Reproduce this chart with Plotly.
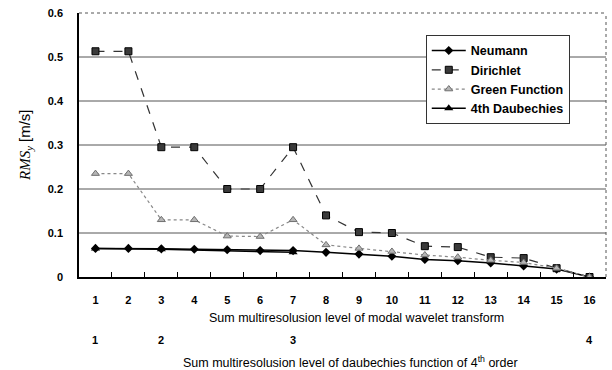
import plotly.graph_objects as go

# Multiresolution level (modal wavelet transform)
levels = list(range(1, 17))
tick_labels = [str(v) for v in levels]

neumann = [0.065, 0.065, 0.064, 0.063, 0.062, 0.060, 0.060, 0.056,
           0.052, 0.047, 0.040, 0.037, 0.032, 0.025, 0.018, 0.0]
dirichlet = [0.513, 0.513, 0.295, 0.295, 0.200, 0.200, 0.295, 0.140,
             0.102, 0.100, 0.070, 0.068, 0.045, 0.043, 0.020, 0.0]
green = [0.235, 0.235, 0.130, 0.130, 0.093, 0.092, 0.130, 0.073,
         0.065, 0.058, 0.050, 0.045, 0.038, 0.033, 0.020, 0.0]

# 4th-order Daubechies levels and where they sit on the level axis
daub_axis_pos = [1, 3, 7, 16]
daub_axis_labels = ["1", "2", "3", "4"]
daub_pos = [1, 3, 7]
daub = [0.065, 0.063, 0.056]

grid_vals = [0.1, 0.2, 0.3, 0.4, 0.5]
y_ticks = [0, 0.1, 0.2, 0.3, 0.4, 0.5, 0.6]
y_tick_text = ["0", "0.1", "0.2", "0.3", "0.4", "0.5", "0.6"]

FONT = "Liberation Sans"
TICKFONT = dict(family=FONT, size=11, color="black", weight="bold")

fig = go.Figure()

fig.add_trace(go.Scatter(
    x=levels, y=neumann, name="Neumann", mode="lines+markers",
    line=dict(color="black", width=1.5),
    marker=dict(symbol="diamond", size=7, color="black"),
))
fig.add_trace(go.Scatter(
    x=levels, y=dirichlet, name="Dirichlet", mode="lines+markers",
    line=dict(color="#333333", width=1.2, dash="dash"),
    marker=dict(symbol="square", size=7, color="#3a3a3a",
                line=dict(color="black", width=1)),
))
fig.add_trace(go.Scatter(
    x=levels, y=green, name="Green Function", mode="lines+markers",
    line=dict(color="#888888", width=1.2, dash="dot"),
    marker=dict(symbol="triangle-up", size=7, color="#b5b5b5",
                line=dict(color="#707070", width=1)),
))
fig.add_trace(go.Scatter(
    x=daub_pos, y=daub, name="4th Daubechies", mode="lines+markers",
    line=dict(color="black", width=1.5),
    marker=dict(symbol="triangle-up", size=8, color="black"),
))

shapes = []
for g in grid_vals:
    shapes.append(dict(type="line", xref="paper", x0=0, x1=1, yref="y",
                       y0=g, y1=g, line=dict(color="#555555", width=1),
                       layer="below"))
# dotted top and right frame
shapes.append(dict(type="line", xref="paper", yref="paper", x0=0, x1=1,
                   y0=1, y1=1, line=dict(color="#555555", width=1, dash="dot")))
shapes.append(dict(type="line", xref="paper", yref="paper", x0=1, x1=1,
                   y0=0, y1=1, line=dict(color="#555555", width=1, dash="dot")))

annotations = []
for pos, lab in zip(daub_axis_pos, daub_axis_labels):
    annotations.append(dict(x=pos, y=0, xref="x", yref="paper", text=lab,
                            showarrow=False, yanchor="middle", yshift=-63,
                            font=TICKFONT))
annotations.append(dict(
    x=0.527, y=0, xref="paper", yref="paper", yanchor="middle", yshift=-41,
    showarrow=False,
    text="Sum multiresolusion level of modal wavelet transform",
    font=dict(family=FONT, size=12.5, color="black")))
annotations.append(dict(
    x=0.516, y=0, xref="paper", yref="paper", yanchor="middle", yshift=-85,
    showarrow=False,
    text="Sum multiresolusion level of daubechies function of 4<sup>th</sup> order",
    font=dict(family=FONT, size=12.5, color="black")))
annotations.append(dict(
    x=0, y=0.5, xref="paper", yref="paper", xanchor="center",
    xshift=-54, showarrow=False, textangle=-90,
    text=("<span style='font-family:Liberation Serif'><i>RMS</i>"
          "<sub><i>y</i></sub></span> [m/s]"),
    font=dict(family=FONT, size=15, color="black")))

fig.update_layout(
    width=612, height=370,
    margin=dict(l=79, r=6, t=13, b=93),
    paper_bgcolor="white", plot_bgcolor="white",
    font=dict(family=FONT, size=11, color="black"),
    showlegend=True,
    legend=dict(
        x=0.658, y=0.917, xanchor="left", yanchor="top",
        bgcolor="white", bordercolor="#333333", borderwidth=1,
        font=dict(family=FONT, size=12.5, color="black", weight="bold"),
        tracegroupgap=0, itemwidth=34,
    ),
    shapes=shapes,
    annotations=annotations,
)

fig.update_xaxes(
    range=[0.5, 16.5], tickvals=levels, ticktext=tick_labels,
    ticks="", showgrid=False, zeroline=False,
    showline=True, linecolor="black", linewidth=1.5,
    ticklabelstandoff=12,
    tickfont=TICKFONT,
    minor=dict(tickvals=[v + 0.5 for v in levels[:-1]], ticks="inside",
               ticklen=5, tickcolor="black", showgrid=False),
)
fig.update_yaxes(
    range=[0, 0.6], tickvals=y_ticks, ticktext=y_tick_text,
    ticks="", showgrid=False, zeroline=False,
    showline=True, linecolor="black", linewidth=1.5,
    ticklabelstandoff=12,
    tickfont=TICKFONT,
)

fig.write_html("out.html")
